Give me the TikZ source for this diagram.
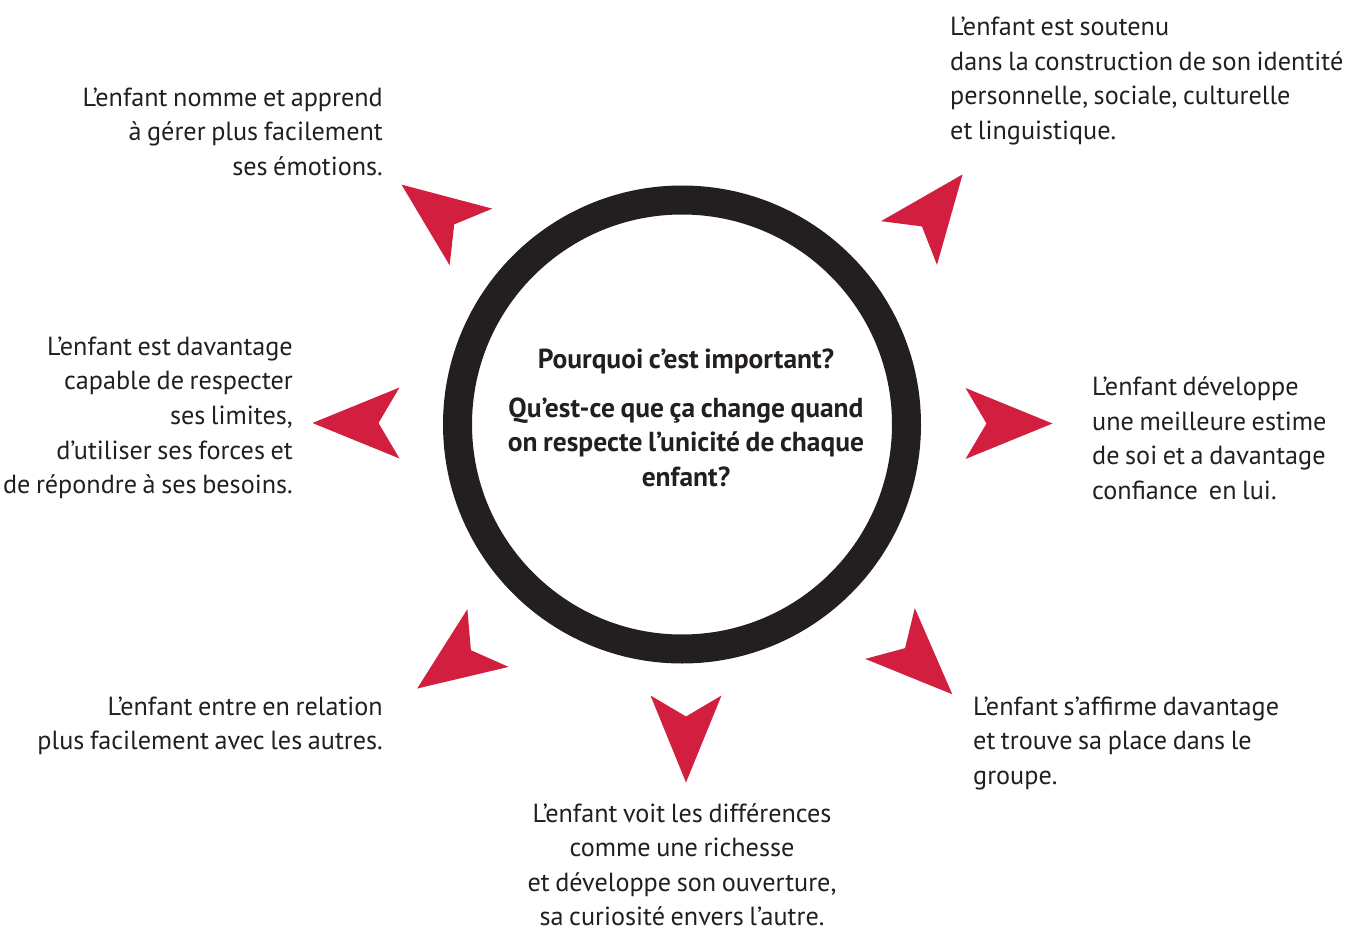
\documentclass[tikz,border=0pt]{standalone}
\usepackage{fontspec}
\setmainfont[WordSpace=0.8]{PT Sans}
\usetikzlibrary{positioning}
\definecolor{rouge}{RGB}{210,31,63}
\definecolor{encre}{RGB}{35,31,32}

\tikzset{
  texte/.style={inner sep=0pt, text=encre, font=\fontsize{26.2}{34.6}\selectfont},
  gras/.style={texte, font=\bfseries\fontsize{27.5}{34.6}\selectfont},
  fleche/.pic={\fill[rouge] (0,-35.5) -- (21,0) -- (0,35.5) -- (87,0) -- cycle;}
}

\begin{document}
\begin{tikzpicture}[x=1pt,y=-1pt]
  \useasboundingbox (0,0) rectangle (1355,931);
  % anneau noir au centre
  \node[circle, draw=encre, line width=29pt, minimum size=449pt, inner sep=0pt] (anneau) at (682,424.5) {};
  \node[gras, anchor=base] (titre) at (686,368) {Pourquoi c’est important?};
  \node[gras, align=center, anchor=north] (question) at (686,397.5)
    {Qu’est-ce que ça change quand\\on respecte l’unicité de chaque\\enfant?};
  % flèches rouges tout autour
  \foreach \px/\py/\ang in {965.5/423.5/0, 909/243/52, 471/237/143, 399.5/423/180,
                            488/638/-144.5, 686/695.5/-90, 890/633.5/-44.3}
    \pic[rotate=\ang] at (\px,\py) {fleche};
  % les textes
  \node[texte, align=left, anchor=north west] (soutenu) at (950,17)
    {L’enfant est soutenu\\dans la construction de son identité\\personnelle, sociale, culturelle\\et linguistique.};
  \node[texte, align=right, anchor=north east] (emotions) at (383,87.5)
    {L’enfant nomme et apprend\\à gérer plus facilement\\ses émotions.};
  \node[texte, align=right, anchor=north east] (limites) at (293,336.5)
    {L’enfant est davantage\\capable de respecter\\ses limites,\\d’utiliser ses forces et\\de répondre à ses besoins.};
  \node[texte, align=left, anchor=north west] (estime) at (1092,376.5)
    {L’enfant développe\\une meilleure estime\\de soi et a davantage\\confiance~ en lui.};
  \node[texte, align=right, anchor=north east] (relation) at (383,696.5)
    {L’enfant entre en relation\\plus facilement avec les autres.};
  \node[texte, align=left, anchor=north west] (place) at (973,696.5)
    {L’enfant s’affirme davantage\\et trouve sa place dans le\\groupe.};
  \node[texte, align=center, anchor=north] (richesse) at (682,803)
    {L’enfant voit les différences\\comme une richesse\\et développe son ouverture,\\sa curiosité envers l’autre.};
\end{tikzpicture}
\end{document}
